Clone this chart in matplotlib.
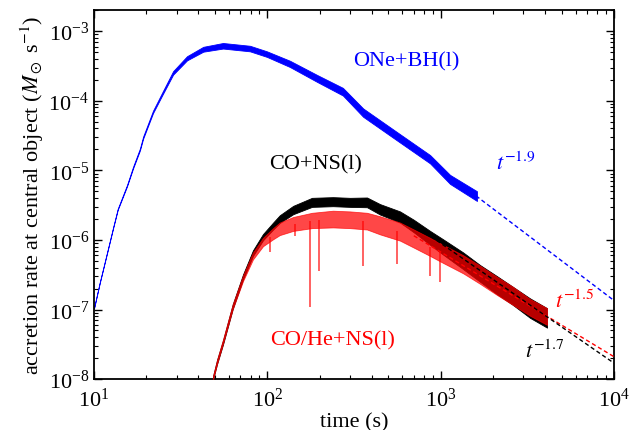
import matplotlib
matplotlib.use("Agg")
import matplotlib.pyplot as plt
import numpy as np

# values (log10 of accretion rate)
blue_t = [10, 10.8, 11.9, 12.9, 13.7, 15.5, 16.8, 18.4, 19.2, 21.9, 25, 28.6,
          34.4, 42.7, 55.5, 79.4, 99.5, 135, 194, 273, 357, 560, 869, 1133, 1620]
blue_c = [-6.98, -6.61, -6.18, -5.82, -5.56, -5.22, -4.96, -4.70, -4.53, -4.16,
          -3.88, -3.60, -3.39, -3.26, -3.21, -3.25, -3.33, -3.47, -3.68, -3.87,
          -4.17, -4.51, -4.84, -5.13, -5.37]
blue_w = [0.005, 0.005, 0.006, 0.007, 0.008, 0.01, 0.012, 0.014, 0.015, 0.017,
          0.02, 0.025, 0.03, 0.035, 0.04, 0.04, 0.04, 0.045, 0.05, 0.055, 0.06,
          0.06, 0.06, 0.065, 0.07]

ns_t = [48.6, 51.3, 55.5, 63.1, 72.4, 82.6, 94.4, 108, 118, 141, 181, 239, 300,
        376, 447, 583, 700, 869, 1033, 1350, 1687, 2114, 2600, 3283, 4110]
black_c = [-7.98, -7.75, -7.47, -6.96, -6.53, -6.19, -5.96, -5.80, -5.70, -5.57,
           -5.46, -5.45, -5.46, -5.46, -5.56, -5.67, -5.80, -5.97, -6.10, -6.30,
           -6.48, -6.65, -6.80, -6.98, -7.12]
black_w = [0.025, 0.03, 0.03, 0.035, 0.035, 0.04, 0.045, 0.05, 0.055, 0.06, 0.065,
           0.065, 0.065, 0.07, 0.075, 0.08, 0.09, 0.1, 0.11, 0.12, 0.12, 0.13,
           0.13, 0.14, 0.14]
red_c = [-7.98, -7.75, -7.46, -6.96, -6.55, -6.23, -6.03, -5.91, -5.84, -5.77,
         -5.72, -5.70, -5.71, -5.73, -5.79, -5.88, -5.98, -6.10, -6.20, -6.35,
         -6.50, -6.66, -6.80, -6.97, -7.10]
red_w = [0.025, 0.03, 0.03, 0.035, 0.04, 0.05, 0.06, 0.08, 0.09, 0.1, 0.11, 0.12,
         0.12, 0.12, 0.13, 0.13, 0.13, 0.13, 0.13, 0.13, 0.13, 0.13, 0.13, 0.12, 0.12]

# deep dips in the red curve
red_spike_t = [103, 144, 176, 199, 357, 560, 869, 990]
red_spike_y = [-6.17, -5.95, -6.97, -6.44, -6.37, -6.35, -6.52, -6.60]

# power-law guides (endpoints)
fit_blue_t, fit_blue_y = [1600, 1e4], [4.3e-6, 1.35e-7]
fit_red_t, fit_red_y = [700, 1e4], [1.15e-6, 2.1e-8]
fit_black_t, fit_black_y = [700, 1e4], [1.66e-6, 1.7e-8]

plt.rcParams["font.family"] = ["Liberation Serif", "DejaVu Serif"]
plt.rcParams["mathtext.fontset"] = "stix"
plt.rcParams["font.size"] = 16

fig = plt.figure(figsize=(6.31, 4.31), dpi=100)
ax = fig.add_axes([0.149, 0.118, 0.824, 0.856])


def band(t, c, w, color, alpha=1.0, z=2):
    c = np.array(c)
    w = np.array(w)
    ax.fill_between(t, 10 ** (c - w), 10 ** (c + w), color=color, lw=0.6,
                    alpha=alpha, zorder=z)


band(blue_t, blue_c, blue_w, "#0000ff")
band(ns_t, black_c, black_w, "black", z=2)
band(ns_t, red_c, red_w, "#ff0000", alpha=0.72, z=3)

red_base = np.interp(np.log10(red_spike_t), np.log10(ns_t), red_c)
ax.vlines(red_spike_t, 10 ** np.array(red_spike_y), 10 ** red_base,
          color="#ff0000", alpha=0.72, lw=1.2, zorder=3)

ax.plot(fit_blue_t, fit_blue_y, ls=(0, (3, 2)), color="#0000ff", lw=1)
ax.plot(fit_red_t, fit_red_y, ls=(0, (3, 2)), color="#ff0000", lw=1, zorder=4)
ax.plot(fit_black_t, fit_black_y, ls=(0, (3, 2)), color="black", lw=1, zorder=4)

ax.set_xscale("log")
ax.set_yscale("log")
ax.set_xlim(10, 1e4)
ax.set_ylim(1e-8, 2e-3)

ax.tick_params(which="both", direction="in", top=True, right=True)
ax.tick_params(which="major", length=6, width=1)
ax.tick_params(which="minor", length=3, width=0.8)
ax.tick_params(axis="x", which="major", pad=6)
for s in ax.spines.values():
    s.set_linewidth(1.3)

ax.set_xlabel("time (s)", labelpad=1)
ax.set_ylabel(r"accretion rate at central object ($M_\odot$ s$^{-1}$)", labelpad=2)

ax.text(631, 3.7e-4, "ONe+BH(l)", color="#0000ff", ha="center", va="center")
ax.text(191, 1.25e-5, "CO+NS(l)", color="black", ha="center", va="center")
ax.text(239, 3.7e-8, "CO/He+NS(l)", color="#ff0000", ha="center", va="center")
ax.text(2700, 1.3e-5, r"$t^{-1.9}$", color="#0000ff", ha="center", va="center")
ax.text(5900, 1.35e-7, r"$t^{-1.5}$", color="#ff0000", ha="center", va="center")
ax.text(4000, 2.6e-8, r"$t^{-1.7}$", color="black", ha="center", va="center")

fig.savefig("out.png", dpi=100)
